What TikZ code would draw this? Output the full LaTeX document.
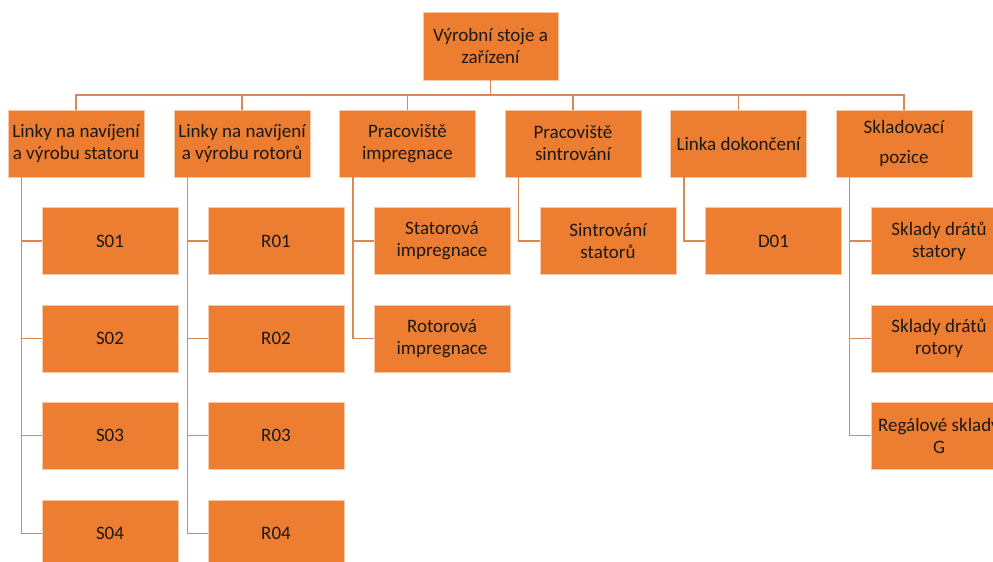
\documentclass[tikz,border=0pt]{standalone}
\usepackage{fontspec}
\setmainfont{Carlito}
\definecolor{boxfill}{HTML}{ED7D31}
\definecolor{boxedge}{HTML}{F6C9AA}
\definecolor{linkline}{HTML}{D98957}
\definecolor{boxtext}{HTML}{1A1A1A}
\begin{document}
\begin{tikzpicture}[x=0.75pt,y=-0.75pt,
  unit/.style={rectangle, fill=boxfill, draw=boxedge, line width=0.6pt,
    minimum width=102pt, minimum height=50.25pt, inner sep=0pt,
    align=center, text=boxtext,
    font=\fontsize{14.25pt}{16.5pt}\selectfont},
  link/.style={draw=linkline, line width=1.1pt}]
\useasboundingbox (0,0) rectangle (993,561);
\clip (0,0) rectangle (993,561);

% root
\node[unit, minimum width=101.25pt, minimum height=51pt] (top) at (490.5,46) {Výrobní stoje a\\zařízení};
\coordinate (bus) at (0,95);

% first level
\node[unit] (l1) at (76,143.5)  {Linky na navíjení\\a výrobu statoru};
\node[unit] (l2) at (242,143.5) {Linky na navíjení\\a výrobu rotorů};
\node[unit] (l3) at (407.5,143.5) {Pracoviště\\impregnace};
\node[unit] (l4) at (573,143.5) {Pracoviště\\sintrování};
\node[unit] (l5) at (738.5,143.5) {Linka dokončení};
\node[unit] (l6) at (904,143.5) {Skladovací\\[6pt]pozice};

% stator lines
\node[unit] (s1) at (110,241) {S01};
\node[unit] (s2) at (110,338.5) {S02};
\node[unit] (s3) at (110,435.5) {S03};
\node[unit] (s4) at (110,533.5) {S04};
% rotor lines
\node[unit] (r1) at (276,241) {R01};
\node[unit] (r2) at (276,338.5) {R02};
\node[unit] (r3) at (276,435.5) {R03};
\node[unit] (r4) at (276,533.5) {R04};
% impregnation
\node[unit] (i1) at (442,241) {Statorová\\impregnace};
\node[unit] (i2) at (442,338.5) {Rotorová\\impregnace};
% sintering
\node[unit] (t1) at (608,241) {Sintrování\\statorů};
% finishing
\node[unit] (d1) at (773.5,241) {D01};
% storage
\node[unit] (k1) at (939,241) {Sklady drátů\\statory};
\node[unit] (k2) at (939,338.5) {Sklady drátů\\rotory};
\node[unit] (k3) at (939,435.5) {Regálové sklady\\G};

% root to first level
\foreach \n in {l1,l2,l3,l4,l5,l6}
  \draw[link] (top.south) -- (top.south |- bus) -| (\n.north);

% first level to children
\foreach \p/\c in {l1/s1,l1/s2,l1/s3,l1/s4,l2/r1,l2/r2,l2/r3,l2/r4,
                   l3/i1,l3/i2,l4/t1,l5/d1,l6/k1,l6/k2,l6/k3}
  \draw[link] ([xshift=10.5pt]\p.south west) |- (\c.west);
\end{tikzpicture}
\end{document}
